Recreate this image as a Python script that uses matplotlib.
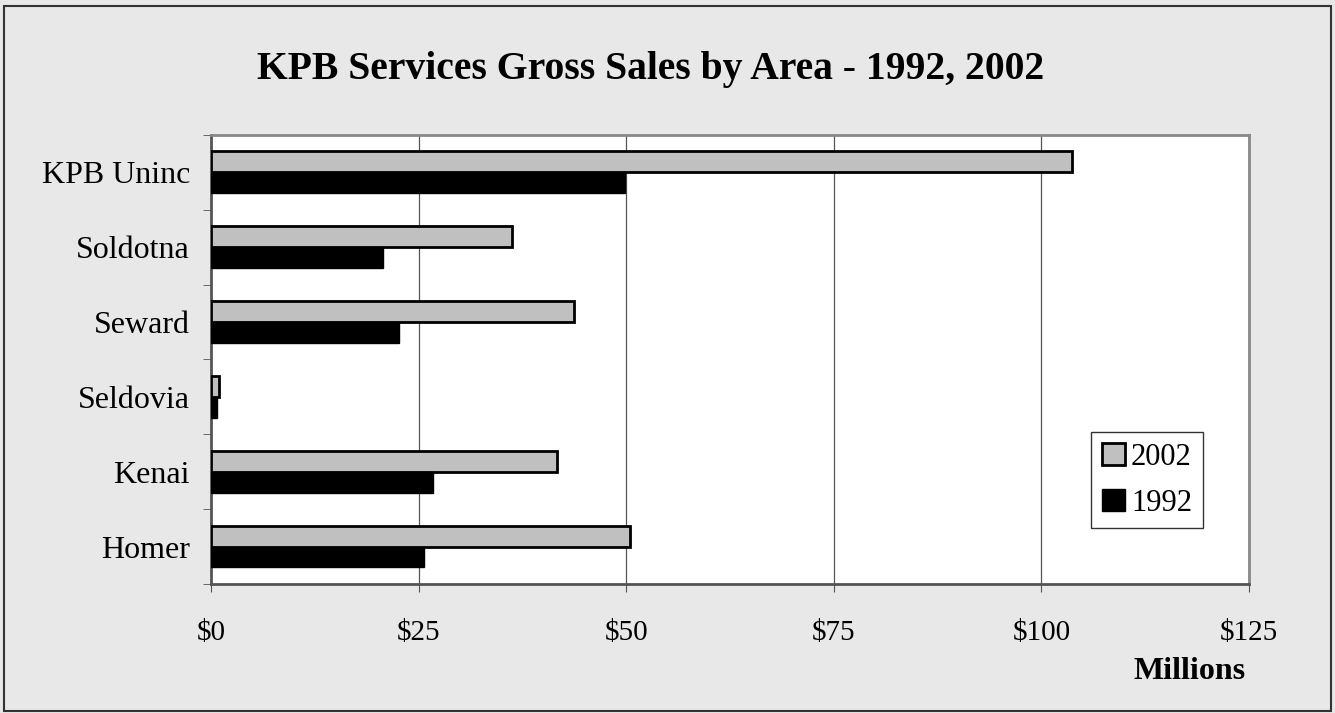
import matplotlib
matplotlib.use("Agg")
import matplotlib.pyplot as plt
from matplotlib.patches import Rectangle
import numpy as np

categories = ["Homer", "Kenai", "Seldovia", "Seward", "Soldotna", "KPB Uninc"]
sales_2002 = [50.5, 41.7, 1.0, 43.7, 36.3, 103.7]
sales_1992 = [25.7, 26.8, 0.7, 22.6, 20.7, 49.9]
xticks = [0, 25, 50, 75, 100, 125]
xtick_labels = ["$0", "$25", "$50", "$75", "$100", "$125"]

plt.rcParams['font.family'] = ['Liberation Serif', 'DejaVu Serif']

fig = plt.figure(figsize=(13.35, 7.13), dpi=100)
fig.patch.set_facecolor('#E8E8E8')
fig.patches.append(Rectangle((0.003, 0.003), 0.994, 0.988, transform=fig.transFigure,
                             fill=False, edgecolor='#333333', linewidth=1.5))

ax = fig.add_axes([0.158, 0.181, 0.7776, 0.6297])
ax.set_facecolor('white')

y = np.arange(len(categories))
h = 0.28
ax.barh(y + h / 2, sales_2002, height=h, color='#C0C0C0', edgecolor='black', linewidth=2, zorder=3, label='2002')
ax.barh(y - h / 2, sales_1992, height=h, color='black', edgecolor='black', linewidth=1, zorder=3, label='1992')

ax.set_xlim(0, 125)
ax.set_ylim(-0.5, len(categories) - 0.5)
ax.set_xticks(xticks)
ax.set_xticklabels(xtick_labels, fontsize=21)
ax.set_yticks(y)
ax.set_yticklabels(categories, fontsize=23)
ax.set_yticks(np.arange(-0.5, len(categories)), minor=True)
ax.tick_params(axis='y', which='major', length=0, pad=15)
ax.tick_params(axis='y', which='minor', length=6, color='#555555')
ax.tick_params(axis='x', which='major', length=6, color='#555555', pad=20)
ax.xaxis.grid(True, color='#555555', linewidth=0.9, zorder=0)
for s in ['top', 'right']:
    ax.spines[s].set_color('#888888')
    ax.spines[s].set_linewidth(2)
for s in ['left', 'bottom']:
    ax.spines[s].set_color('#555555')
    ax.spines[s].set_linewidth(2)

fig.text(0.487, 0.903, "KPB Services Gross Sales by Area - 1992, 2002", ha='center', va='center',
         fontsize=28.5, fontweight='bold')
fig.text(0.933, 0.058, "Millions", ha='right', va='center', fontsize=23, fontweight='bold')

leg = ax.legend(loc='upper left', bbox_to_anchor=(0.848, 0.338), fontsize=22, frameon=True,
                fancybox=False, edgecolor='#333333', framealpha=1, handlelength=0.75,
                handleheight=0.75, handletextpad=0.2, borderpad=0.35, labelspacing=0.55,
                borderaxespad=0)
leg.get_frame().set_linewidth(1)

fig.savefig("out.png", dpi=100, facecolor=fig.get_facecolor())
